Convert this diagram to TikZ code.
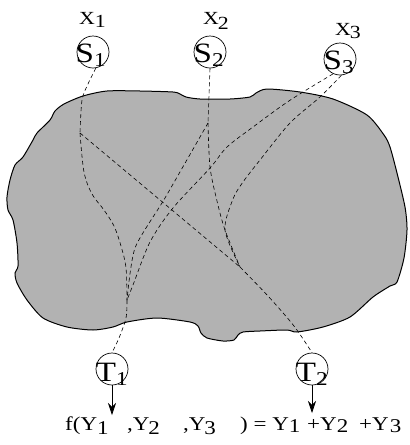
\documentclass[tikz,border=0pt]{standalone}
\usepackage{fontspec}
\setmainfont{Liberation Serif}
\usepackage{graphicx}
\usetikzlibrary{arrows.meta}
\newcommand\widetxt[1]{\scalebox{1.18}[1]{#1}}
\newcommand\dn[2][4pt]{\raisebox{-#1}{#2}}
\begin{document}
\begin{tikzpicture}[x=1pt,y=-1pt,
  blob/.style={fill=gray!60, draw=black, line width=1pt},
  route/.style={draw, dash pattern=on 4pt off 3pt, line width=0.6pt},
  station/.style={circle, draw, line width=0.7pt, minimum size=32pt, inner sep=0pt},
  inlbl/.style={font=\fontsize{28}{30}\selectfont, anchor=base, inner sep=0pt},
  xlbl/.style={font=\fontsize{18.5}{20}\selectfont, anchor=base west, inner sep=0pt},
  eqlbl/.style={font=\fontsize{19.5}{22}\selectfont, anchor=base west, inner sep=0pt},
  outarrow/.style={draw, line width=0.7pt, -{Stealth[length=12pt,width=8pt]}}]
\useasboundingbox (0,0) rectangle (410,445);

% region
\draw[blob] plot[smooth cycle, tension=0.45] coordinates {
 (55,111) (64,104) (83,96) (107,91) (140,91) (173,92) (180,94) (186,97)
 (200,99) (230,99) (250,97) (256,93) (267,89) (300,92) (333,99) (367,115)
 (384,135) (390,147) (397,173) (405,207) (407,230) (404,258) (397,282)
 (390,286) (373,297) (350,317) (323,327) (297,332) (287,330) (260,331)
 (243,332) (238,335) (234,340) (223,341) (207,338) (201,333) (198,326)
 (190,322) (157,318) (127,322) (113,327) (93,330) (67,327) (43,318)
 (27,300) (17,283) (15,273) (18,266) (17,243) (13,220) (8,210) (7,197)
 (10,180) (15,165) (23,157) (33,140) (37,133) (50,120)};

% stations
\node[station] (s1) at (93,52) {};
\node[station] (s2) at (210,52) {};
\node[station] (s3) at (340,59) {};
\node[station] (t1) at (112,369) {};
\node[station] (t2) at (312,369) {};

\node[inlbl] (s1l) at (91,62.5) {\widetxt{S\textsubscript{1}}};
\node[inlbl] (s2l) at (209,62.5) {\widetxt{S\textsubscript{2}}};
\node[inlbl] (s3l) at (339,69.5) {\widetxt{S\textsubscript{3}}};
\node[inlbl] (t1l) at (112,381) {\widetxt{T\textsubscript{1}}};
\node[inlbl] (t2l) at (312,381) {\widetxt{T\textsubscript{2}}};

\node[xlbl] (x1) at (79,24.5) {\widetxt{X\dn[3pt]{1}}};
\node[xlbl] (x2) at (203,24) {\widetxt{X\kern-1pt\dn[5pt]{2}}};
\node[xlbl] (x3) at (335,35) {\widetxt{X\kern-1pt\dn[3pt]{3}}};

% routes
\coordinate (j1) at (80,133);
\coordinate (j2) at (208,123);
\coordinate (m2) at (240,267);
\coordinate (m1) at (127,300);

\path[route] plot[smooth, tension=0.5] coordinates {(s1.-80) (88,84) (82,100) (j1)};
\path[route] plot[smooth, tension=0.55] coordinates {(j1) (84,172) (92,194) (104,210) (114,226) (121,246) (126,268) (m1)};
\path[route] plot[smooth, tension=0.5] coordinates {(m1) (126,318) (119,338) (t1.north)};
\path[route] (j1) -- (m2);
\path[route] plot[smooth, tension=0.5] coordinates {(m2) (268,296) (294,326) (t2.north)};

\path[route] (s2.south) -- (j2);
\path[route] plot[smooth, tension=0.4] coordinates {(j2) (165,198) (135,248) (m1)};
\path[route] plot[smooth, tension=0.5] coordinates {(j2) (210,167) (217,201) (225,230) (m2)};

\path[route] plot[smooth, tension=0.5] coordinates {(s3.-115) (303,92) (283,105) (253,127) (227,147) (210,168) (173,208) (150,242) (133,285) (m1)};
\path[route] plot[smooth, tension=0.5] coordinates {(s3.-85) (320,97) (290,123) (260,160) (243,182) (233,199) (225,230) (m2)};

% outputs
\coordinate (o1) at (112,415);
\coordinate (o2) at (312,413);
\path[outarrow] (t1.south) -- (o1);
\path[outarrow] (t2.south) -- (o2);

% formula
\node[eqlbl] (e1) at (65,430) {\widetxt{f(Y\dn{1}}};
\node[eqlbl] (e2) at (127,430) {\widetxt{,Y\kern-1pt\dn{2}}};
\node[eqlbl] (e3) at (183,430) {\widetxt{,Y\kern-1pt\dn{3}}};
\node[eqlbl] (e4) at (240,430) {\widetxt{) = Y\dn[2pt]{1}}};
\node[eqlbl] (e5) at (307,430) {\widetxt{+Y\dn[2pt]{2}}};
\node[eqlbl] (e6) at (359,430) {\widetxt{+Y\kern1pt\dn[2pt]{3}}};
\end{tikzpicture}
\end{document}
